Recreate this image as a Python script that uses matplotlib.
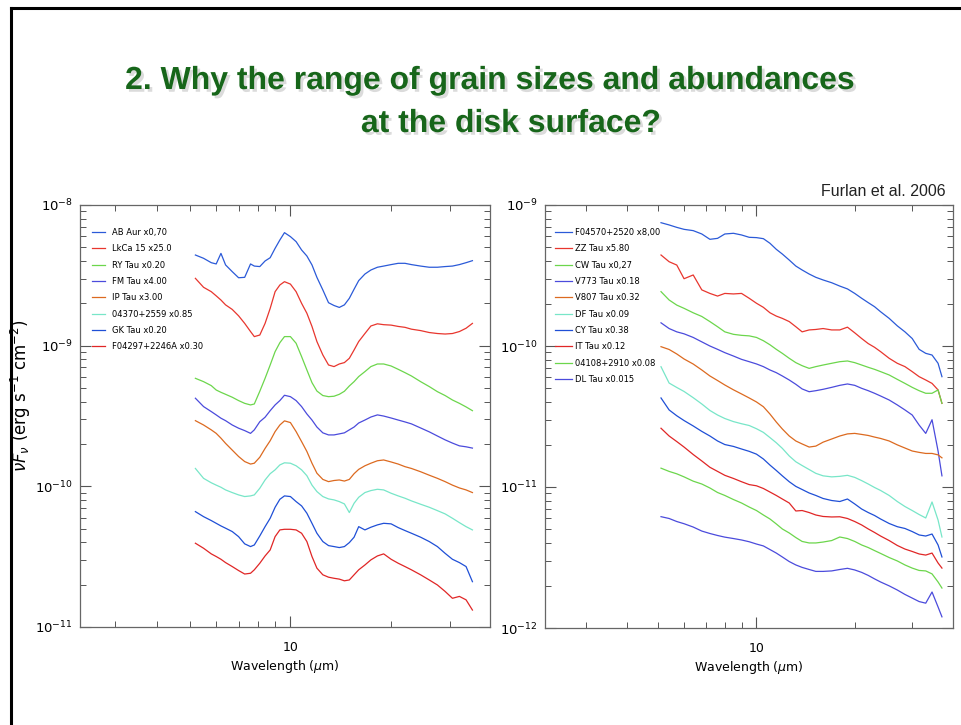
import matplotlib.pyplot as plt
import matplotlib.patheffects as pe
from matplotlib.lines import Line2D
from matplotlib.ticker import FixedLocator, FixedFormatter, NullFormatter
import numpy as np

plt.rcParams['font.family'] = ['DejaVu Sans']

# ---- left panel: wavelength (micron) and nuF_nu in 1e-11 erg s^-1 cm^-2 (scaled)
wl_left = [5.2, 5.5, 5.8, 6.0, 6.2, 6.4, 6.7, 7.0, 7.3, 7.6,
           7.8, 8.1, 8.4, 8.7, 9.0, 9.3, 9.6, 10.0, 10.4, 10.8,
           11.2, 11.6, 12.0, 12.5, 13.0, 13.5, 14.0, 14.5, 15.0, 15.5,
           16.0, 16.7, 17.4, 18.2, 19.0, 20.0, 21.0, 22.0, 23.0, 24.5,
           26.0, 27.5, 29.0, 30.5, 32.0, 33.5, 35.0]

ab_aur = [441, 418, 389, 381, 453, 375, 336, 304, 306, 381,
          368, 365, 400, 422, 492, 564, 636, 596, 549, 479,
          434, 375, 306, 249, 202, 193, 187, 195, 217, 252,
          290, 323, 345, 361, 368, 377, 385, 385, 377, 368,
          361, 361, 365, 368, 377, 389, 402]
lkca15 = [301, 260, 242, 226, 211, 195, 181, 163, 144, 126,
          116, 119, 144, 184, 242, 270, 285, 274, 242, 200,
          170, 137, 107, 85.9, 72.9, 71.0, 74.1, 75.8, 81.3, 93.2,
          107, 122, 138, 143, 141, 140, 137, 135, 131, 128,
          124, 122, 121, 122, 126, 133, 144]
ry_tau = [58.6, 55.5, 52.0, 48.4, 46.6, 45.1, 43.0, 40.7, 38.9, 37.9,
          38.5, 47.4, 58.6, 72.9, 90.7, 105, 116, 116, 104, 83.6,
          67.2, 54.6, 47.6, 44.2, 43.4, 43.7, 45.1, 47.4, 51.7, 55.5,
          60.3, 65.4, 71.0, 74.1, 74.1, 71.7, 67.9, 64.3, 60.9, 55.5,
          51.2, 47.1, 44.2, 41.1, 38.9, 36.7, 34.5]
fm_tau = [42.3, 36.9, 34.0, 32.2, 30.5, 29.3, 27.3, 25.9, 24.9, 23.8,
          25.2, 28.8, 31.0, 34.5, 37.9, 40.7, 44.4, 43.4, 40.7, 36.9,
          32.7, 29.6, 26.4, 24.0, 23.2, 23.2, 23.6, 24.0, 25.2, 26.4,
          28.2, 29.6, 31.1, 32.2, 31.6, 30.6, 29.6, 28.7, 27.8, 26.0,
          24.4, 22.8, 21.4, 20.3, 19.4, 19.1, 18.7]
ip_tau = [29.3, 27.3, 25.2, 23.8, 22.0, 20.2, 18.1, 16.3, 15.0, 14.4,
          14.6, 16.1, 18.6, 21.1, 24.5, 27.3, 29.2, 28.4, 24.5, 20.8,
          17.7, 14.6, 12.4, 11.2, 10.8, 11.0, 11.1, 10.9, 11.2, 12.3,
          13.2, 14.0, 14.6, 15.2, 15.4, 14.9, 14.4, 13.8, 13.4, 12.7,
          12.0, 11.4, 10.8, 10.2, 9.74, 9.43, 9.03]
iras04370 = [13.4, 11.4, 10.6, 10.2, 9.85, 9.43, 9.03, 8.69, 8.46, 8.55,
             8.69, 9.69, 11.1, 12.3, 13.1, 14.2, 14.7, 14.6, 14.0, 13.1,
             11.9, 10.2, 9.18, 8.46, 8.14, 8.01, 7.79, 7.50, 6.51, 7.58,
             8.36, 9.03, 9.33, 9.53, 9.43, 8.93, 8.55, 8.23, 7.88, 7.46,
             7.10, 6.72, 6.37, 5.93, 5.52, 5.17, 4.90]
gk_tau = [6.61, 6.09, 5.71, 5.46, 5.23, 5.04, 4.77, 4.39, 3.90, 3.73,
          3.83, 4.44, 5.17, 5.93, 7.10, 8.09, 8.55, 8.46, 7.79, 7.26,
          6.44, 5.46, 4.64, 4.05, 3.79, 3.73, 3.67, 3.73, 3.98, 4.35,
          5.17, 4.90, 5.12, 5.32, 5.46, 5.41, 5.09, 4.85, 4.64, 4.35,
          4.05, 3.73, 3.34, 3.03, 2.87, 2.69, 2.10]
f04297 = [3.94, 3.63, 3.31, 3.17, 3.03, 2.87, 2.69, 2.52, 2.38, 2.41,
          2.55, 2.84, 3.20, 3.53, 4.39, 4.90, 4.95, 4.95, 4.90, 4.64,
          4.05, 3.17, 2.62, 2.35, 2.26, 2.22, 2.19, 2.13, 2.16, 2.35,
          2.55, 2.76, 3.00, 3.20, 3.31, 3.03, 2.84, 2.69, 2.55, 2.35,
          2.16, 1.99, 1.79, 1.60, 1.65, 1.56, 1.32]

left_series = [ab_aur, lkca15, ry_tau, fm_tau, ip_tau, iras04370, gk_tau, f04297]
left_labels = ['AB Aur x0,70', 'LkCa 15 x25.0', 'RY Tau x0.20', 'FM Tau x4.00',
               'IP Tau x3.00', '04370+2559 x0.85', 'GK Tau x0.20', 'F04297+2246A x0.30']
left_colors = ['#2b5ad8', '#e8362e', '#6cd64c', '#4b4bdc',
               '#dc6a20', '#78e6c8', '#1f4fd6', '#e02626']

# ---- right panel: nuF_nu in 1e-12 erg s^-1 cm^-2 (scaled)
wl_right = [5.1, 5.4, 5.7, 6.0, 6.4, 6.8, 7.2, 7.6, 8.0, 8.5,
            9.0, 9.5, 10.0, 10.5, 11.0, 11.5, 12.0, 12.6, 13.2, 13.8,
            14.5, 15.2, 16.0, 17.0, 18.0, 19.0, 20.0, 21.0, 22.0, 23.0,
            24.0, 25.5, 27.0, 28.5, 30.0, 31.5, 33.0, 34.5, 36.0, 37.0]

f04570 = [749, 722, 694, 672, 658, 623, 571, 580, 623, 630,
          613, 590, 587, 577, 535, 485, 449, 407, 369, 346,
          324, 307, 294, 281, 266, 254, 236, 218, 203, 190,
          175, 157, 139, 126, 113, 94.7, 88.7, 86.3, 75.4, 60.6]
zz_tau = [442, 396, 375, 300, 319, 250, 236, 226, 236, 234,
          236, 218, 201, 188, 172, 163, 157, 149, 137, 126,
          130, 131, 133, 130, 130, 136, 124, 113, 104, 97.9,
          91.2, 81.8, 75.4, 71.4, 65.8, 60.6, 57.4, 54.3, 48.8, 39.2]
cw_tau = [243, 212, 195, 185, 172, 162, 149, 137, 126, 121,
          119, 118, 115, 109, 102, 94.7, 88.7, 81.8, 76.2, 72.5,
          69.4, 71.4, 73.3, 75.4, 77.4, 78.3, 76.2, 73.3, 70.6, 68.3,
          65.8, 62.3, 58.0, 54.3, 50.9, 48.2, 46.2, 46.2, 48.8, 39.2]
v773_tau = [146, 133, 126, 122, 115, 107, 100, 94.7, 89.7, 84.9,
            80.4, 77.4, 74.6, 71.4, 67.6, 64.7, 61.3, 57.4, 53.5, 49.6,
            47.4, 48.2, 49.3, 50.9, 52.6, 53.8, 52.6, 50.1, 48.2, 46.2,
            44.2, 41.4, 38.2, 35.2, 32.4, 27.5, 24.0, 30.0, 18.0, 12.0]
v807_tau = [98.9, 94.5, 87.8, 80.9, 74.5, 67.6, 61.3, 56.9, 52.9, 48.9,
            45.7, 42.8, 40.1, 37.1, 32.9, 28.9, 25.8, 23.0, 21.2, 20.2,
            19.2, 19.5, 20.8, 21.9, 23.0, 23.8, 24.0, 23.6, 23.2, 22.6,
            22.1, 21.2, 19.9, 18.9, 18.0, 17.6, 17.3, 17.3, 16.9, 16.1]
df_tau = [71.3, 54.6, 50.8, 47.6, 43.0, 38.8, 34.9, 32.4, 30.6, 29.1,
          28.1, 27.3, 25.9, 24.4, 22.4, 20.6, 18.8, 16.6, 15.1, 14.2,
          13.3, 12.5, 12.0, 11.8, 11.9, 12.1, 11.7, 11.1, 10.5, 9.92,
          9.45, 8.71, 7.89, 7.27, 6.81, 6.38, 6.03, 7.83, 5.83, 4.42]
cy_tau = [42.8, 35.2, 32.0, 29.6, 27.1, 24.8, 23.0, 21.2, 20.0, 19.4,
          18.6, 17.9, 17.1, 15.8, 14.3, 13.1, 12.0, 10.9, 10.1, 9.60,
          9.07, 8.71, 8.29, 8.02, 7.89, 8.22, 7.58, 6.98, 6.59, 6.28,
          5.93, 5.51, 5.23, 5.08, 4.83, 4.57, 4.49, 4.64, 3.88, 3.19]
it_tau = [26.1, 23.0, 21.0, 19.2, 17.0, 15.3, 13.8, 12.9, 12.1, 11.5,
          10.9, 10.4, 10.2, 9.76, 9.21, 8.71, 8.22, 7.70, 6.76, 6.81,
          6.59, 6.33, 6.18, 6.13, 6.15, 5.98, 5.69, 5.38, 5.04, 4.76,
          4.49, 4.17, 3.85, 3.63, 3.49, 3.35, 3.29, 3.40, 2.89, 2.66]
iras04108 = [13.6, 12.9, 12.4, 11.8, 11.0, 10.5, 9.84, 9.14, 8.71, 8.15,
             7.70, 7.21, 6.81, 6.33, 5.93, 5.47, 5.04, 4.72, 4.38, 4.11,
             4.01, 4.01, 4.07, 4.17, 4.42, 4.31, 4.11, 3.88, 3.72, 3.54,
             3.38, 3.16, 2.99, 2.80, 2.66, 2.56, 2.54, 2.42, 2.12, 1.92]
dl_tau = [6.16, 5.98, 5.69, 5.49, 5.20, 4.87, 4.68, 4.53, 4.41, 4.31,
          4.21, 4.09, 3.94, 3.82, 3.60, 3.40, 3.19, 2.96, 2.80, 2.69,
          2.60, 2.52, 2.52, 2.54, 2.60, 2.65, 2.58, 2.48, 2.36, 2.23,
          2.12, 1.99, 1.86, 1.73, 1.63, 1.54, 1.50, 1.80, 1.41, 1.20]

right_series = [f04570, zz_tau, cw_tau, v773_tau, v807_tau,
                df_tau, cy_tau, it_tau, iras04108, dl_tau]
right_labels = ['F04570+2520 x8,00', 'ZZ Tau x5.80', 'CW Tau x0,27', 'V773 Tau x0.18',
                'V807 Tau x0.32', 'DF Tau x0.09', 'CY Tau x0.38', 'IT Tau x0.12',
                '04108+2910 x0.08', 'DL Tau x0.015']
right_colors = ['#2b5ad8', '#e8362e', '#6cd64c', '#4b4bdc', '#dc6a20',
                '#78e6c8', '#1f4fd6', '#e02626', '#6cd64c', '#4b4bdc']

W, H = 961, 725
fig = plt.figure(figsize=(W / 100, H / 100), dpi=100)


def panel(rect, wl, series, labels, colors, unit, decades, xlim, leg_anchor, hlen, hpad):
    ax = fig.add_axes(rect)
    for flux, lab, col in zip(series, labels, colors):
        ax.plot(wl, np.array(flux) * unit, color=col, lw=0.9, label=lab)
    ax.set_xscale('log')
    ax.set_yscale('log')
    ax.set_xlim(*xlim)
    ax.set_ylim(decades[0], decades[-1])
    ax.yaxis.set_major_locator(FixedLocator(decades))
    ax.xaxis.set_major_locator(FixedLocator([10]))
    ax.xaxis.set_major_formatter(FixedFormatter(['10']))
    ax.xaxis.set_minor_locator(FixedLocator([3, 4, 5, 6, 7, 8, 9, 20, 30]))
    ax.xaxis.set_minor_formatter(NullFormatter())
    ax.yaxis.set_minor_formatter(NullFormatter())
    ax.tick_params(which='both', direction='in', top=True, right=True,
                   color='#555555')
    ax.tick_params(axis='y', labelsize=9.5, pad=5)
    ax.tick_params(axis='x', labelsize=9, pad=10)
    ax.tick_params(which='major', length=8, width=0.8)
    ax.tick_params(which='minor', length=4, width=0.7)
    for sp in ax.spines.values():
        sp.set_color('#666666')
        sp.set_linewidth(0.9)
    ax.set_xlabel(r'Wavelength ($\mu$m)', fontsize=9, labelpad=3)
    ax.legend(loc='upper left', bbox_to_anchor=leg_anchor, frameon=False,
              fontsize=6, handlelength=hlen, handletextpad=hpad,
              labelspacing=0.88, borderpad=0, borderaxespad=0)
    return ax


ax1 = panel([80 / W, 1 - 627 / H, 410 / W, 422 / H], wl_left, left_series,
            left_labels, left_colors, 1e-11, [1e-11, 1e-10, 1e-9, 1e-8], (2.35, 39.5),
            (0.029, 0.9455), 1.6, 0.8)
ax2 = panel([545 / W, 1 - 628 / H, 408 / W, 423 / H], wl_right, right_series,
            right_labels, right_colors, 1e-12, [1e-12, 1e-11, 1e-10, 1e-9], (2.25, 40.0),
            (0.0245, 0.9456), 2.0, 0.45)

fig.text(21 / W, 1 - 396 / H, r'$\nu F_\nu$ (erg s$^{-1}$ cm$^{-2}$)',
         rotation=90, ha='center', va='center', fontsize=12)

# slide title with a soft drop shadow
shadow = [pe.withSimplePatchShadow(offset=(2, -2), shadow_rgbFace='#999999', alpha=0.35)]
fig.text(490 / W, 1 - 89 / H, '2. Why the range of grain sizes and abundances',
         ha='center', va='baseline', fontsize=23, fontweight='bold',
         family='Liberation Sans', color='#17661a', path_effects=shadow)
fig.text(511 / W, 1 - 132 / H, 'at the disk surface?',
         ha='center', va='baseline', fontsize=23, fontweight='bold',
         family='Liberation Sans', color='#17661a', path_effects=shadow)

fig.text(946 / W, 1 - 196 / H, 'Furlan et al. 2006', ha='right', va='baseline',
         fontsize=11.5, family='Liberation Sans', color='#222222')

# slide frame
fig.add_artist(Line2D([10.5 / W, 10.5 / W], [0, 1 - 7.5 / H],
                      transform=fig.transFigure, color='black', lw=2.2))
fig.add_artist(Line2D([10.5 / W, 1], [1 - 7.5 / H, 1 - 7.5 / H],
                      transform=fig.transFigure, color='black', lw=2.2))

fig.savefig('out.png', dpi=100)
